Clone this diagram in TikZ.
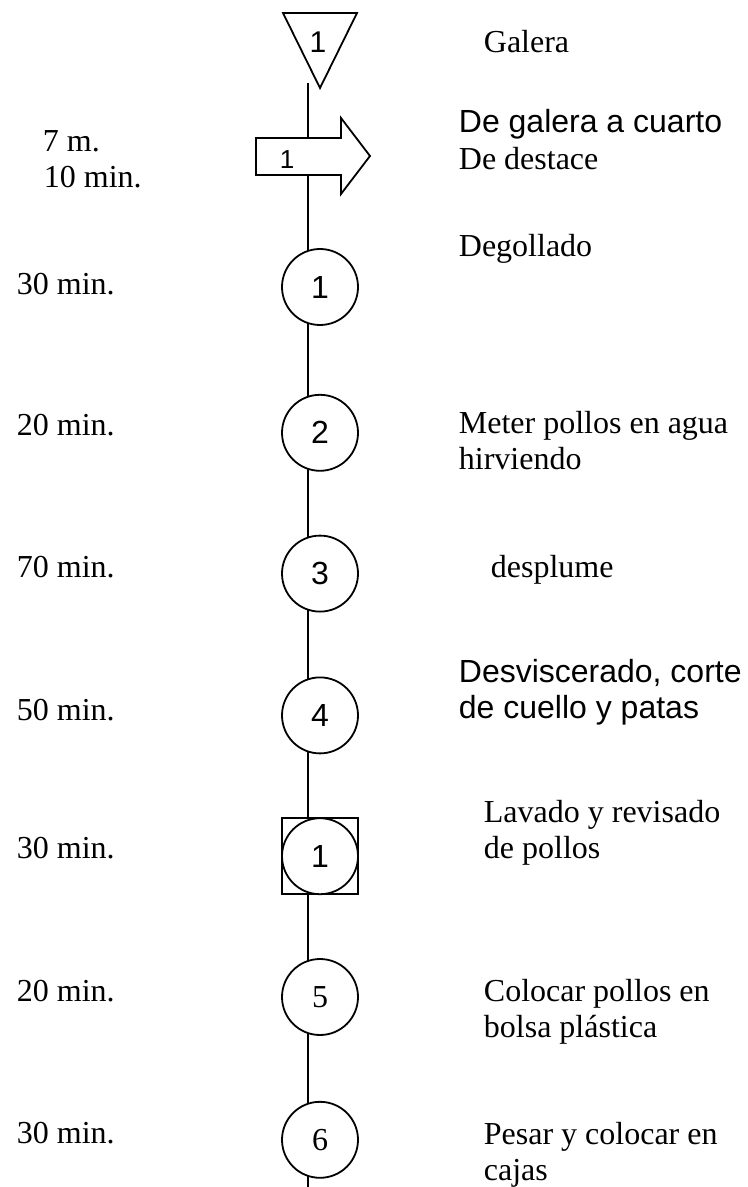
\documentclass[tikz,border=0pt]{standalone}
\usepackage{fontspec}
\setmainfont{Liberation Serif}
\newfontfamily\arialfont{Liberation Sans}
\usetikzlibrary{positioning}

\begin{document}
\begin{tikzpicture}
[x=0.5pt, y=-0.5pt, line width=0.9pt,
   opC/.style={shape=circle, draw, fill=white, minimum size=38pt, inner sep=0pt, font=\arialfont\fontsize{16}{18}\selectfont},
   opCs/.style={opC, font=\fontsize{16}{18}\selectfont},
   inspS/.style={shape=rectangle, draw, fill=white, minimum size=38pt, inner sep=0pt},
   timeL/.style={anchor=base west, inner sep=0pt, font=\fontsize{16}{18}\selectfont},
   descL/.style={anchor=base west, inner sep=0pt, align=left, font=\fontsize{16}{18}\selectfont},
   descLs/.style={descL, font=\arialfont\fontsize{16}{18}\selectfont}]
\useasboundingbox (0,0) rectangle (748,1187);
% main flow line
\coordinate (top) at (308,83);
\coordinate (bot) at (308,1187);
\draw (top) -- (bot);
% storage
\draw[fill=white] (283,13) -- (357,13) -- (320,88) -- cycle;
\node[font=\arialfont\fontsize{15}{18}\selectfont] (alm) at (318,42) {1};
% transport
\draw[fill=white] (256,138) -- (341,138) -- (341,118) -- (370,156) -- (341,194) -- (341,175) -- (256,175) -- cycle;
\node[font=\arialfont\fontsize{13}{16}\selectfont] (tra) at (287,160) {1};
% operations
\node[opC] (op1) at (320,287) {1};
\node[opC] (op2) [below=34pt of op1] {2};
\node[opC] (op3) [below=31.5pt of op2] {3};
\node[opC] (op4) [below=32pt of op3] {4};
\node[inspS] (ins1) [below=31.5pt of op4] {};
\node[opC] (insC) at (ins1) {1};
\node[opCs] (op5) [below=31.5pt of ins1] {5};
\node[opCs] (op6) [below=32.5pt of op5] {6};
% times
\node[timeL] (t0) at (42,152) {7 m.};
\node[timeL] (t1) at (43,188) {10 min.};
\node[timeL] (t2) at (16,295) {30 min.};
\node[timeL] (t3) at (16,435) {20 min.};
\node[timeL] (t4) at (16,577) {70 min.};
\node[timeL] (t5) at (16,720) {50 min.};
\node[timeL] (t6) at (16,858) {30 min.};
\node[timeL] (t7) at (16,1001) {20 min.};
\node[timeL] (t8) at (16,1143) {30 min.};
% descriptions (base = last line)
\node[descL] (d0) at (483,53) {Galera};
\node[descLs] (d1) at (458,133) {De galera a cuarto};
\node[descL] (d2) at (458,170) {De destace};
\node[descL] (d3) at (458,257) {Degollado};
\node[descL] (d4) at (458,469) {Meter pollos en agua\\hirviendo};
\node[descL] (d5) at (490,577) {desplume};
\node[descLs] (d6) at (458,718) {Desviscerado, corte\\de cuello y patas};
\node[descL] (d7) at (483,858) {Lavado y revisado\\de pollos};
\node[descL] (d8) at (483,1037) {Colocar pollos en\\bolsa plástica};
\node[descL] (d9) at (483,1180) {Pesar y colocar en\\cajas};
\end{tikzpicture}
\end{document}
